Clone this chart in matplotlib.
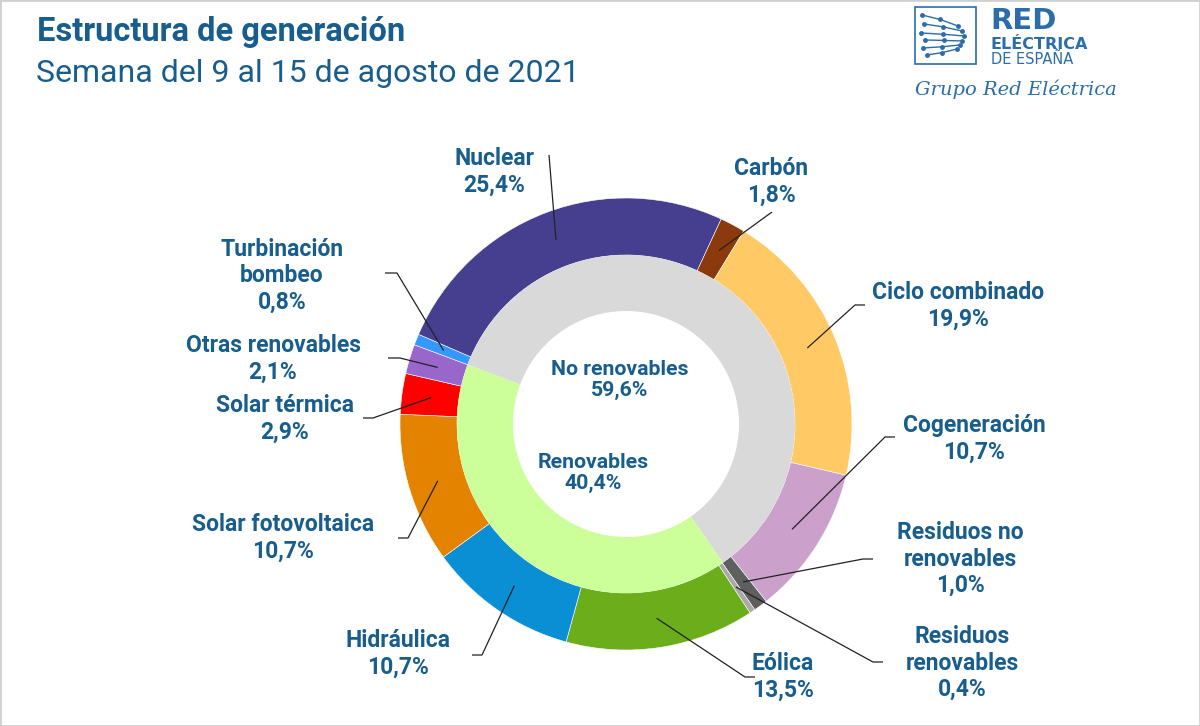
import matplotlib
matplotlib.use('Agg')
import matplotlib.pyplot as plt
import numpy as np
from matplotlib.patches import Rectangle

# ---------------- data ----------------
categories = ['Turbinación\nbombeo', 'Nuclear', 'Carbón', 'Ciclo combinado',
              'Cogeneración', 'Residuos no\nrenovables', 'Residuos\nrenovables',
              'Eólica', 'Hidráulica', 'Solar fotovoltaica', 'Solar térmica',
              'Otras renovables']
values = [0.8, 25.4, 1.8, 19.9, 10.7, 1.0, 0.4, 13.5, 10.7, 10.7, 2.9, 2.1]
value_labels = ['0,8%', '25,4%', '1,8%', '19,9%', '10,7%', '1,0%', '0,4%',
                '13,5%', '10,7%', '10,7%', '2,9%', '2,1%']
groups = ['No renovables', 'Renovables']
group_values = [59.6, 40.4]
group_labels = ['59,6%', '40,4%']

title = 'Estructura de generación'
subtitle = 'Semana del 9 al 15 de agosto de 2021'

# ---------------- style / layout ----------------
colors = ['#3399FF', '#463F90', '#8B3A0E', '#FFC966', '#CBA0CB', '#5F5F5F',
          '#A9A9A9', '#6BAD1A', '#0A8FD4', '#E38300', '#FF0000', '#9966CC']
group_colors = ['#D9D9D9', '#CCFF99']
TXT = '#175D8D'
LOGO = '#2A6DAA'

W, H = 1200, 726
CX, CY = 626, H - 424
R = 226

def Y(y):
    return H - y

# text centre (pixel coords), elbow start / end (pixel coords) or None
label_pos = [
    (282, 276, (385, 273), (397, 273)),   # Turbinación
    (494, 172, (549, 155), None),         # Nuclear
    (771, 182, (772, 212), None),         # Carbón
    (958, 306, (865, 305), (855, 305)),   # Ciclo combinado
    (974, 439, (895, 437), (885, 437)),   # Cogeneración
    (960, 559, (873, 559), (863, 559)),   # Residuos no renovables
    (962, 663, (883, 662), (873, 662)),   # Residuos renovables
    (783, 677, (755, 677), (745, 677)),   # Eólica
    (398, 654, (472, 655), (482, 655)),   # Hidráulica
    (283, 538, (398, 538), (408, 538)),   # Solar FV
    (285, 419, (363, 418), (373, 418)),   # Solar térmica
    (273, 359, (388, 358), (400, 358)),   # Otras renovables
]
group_pos = [(620, 380), (593, 473)]

FONT = ['Roboto', 'DejaVu Sans']
plt.rcParams['font.family'] = FONT

fig = plt.figure(figsize=(W / 100, H / 100), dpi=100)
ax = fig.add_axes([0, 0, 1, 1])

outer, _ = ax.pie(values, radius=R, center=(CX, CY), startangle=159.5,
                  counterclock=False, colors=colors,
                  wedgeprops=dict(width=57, edgecolor='white', linewidth=0.4))
inner, _ = ax.pie(group_values, radius=169, center=(CX, CY), startangle=159.5,
                  counterclock=False, colors=group_colors,
                  wedgeprops=dict(width=56, edgecolor='none'))

ax.set_xlim(0, W)
ax.set_ylim(0, H)
ax.set_aspect('equal')
ax.axis('off')

fs = 16.5
for w, cat, vl, (tx, ty, p0, p1) in zip(outer, categories, value_labels, label_pos):
    ax.text(tx, Y(ty), cat + '\n' + vl, ha='center', va='center', color=TXT,
            fontsize=fs, fontweight='bold', linespacing=1.18)
    mid = np.deg2rad((w.theta1 + w.theta2) / 2)
    ex, ey = CX + 0.87 * R * np.cos(mid), CY + 0.87 * R * np.sin(mid)
    xs = [p0[0]]
    ys = [Y(p0[1])]
    if p1 is not None:
        xs.append(p1[0]); ys.append(Y(p1[1]))
    xs.append(ex); ys.append(ey)
    ax.plot(xs, ys, color='#222222', lw=0.9, solid_capstyle='butt')

for g, gl, (tx, ty) in zip(groups, group_labels, group_pos):
    ax.text(tx, Y(ty), g + '\n' + gl, ha='center', va='center', color=TXT,
            fontsize=15.3, fontweight='bold', linespacing=1.15)

# titles
ax.text(37, Y(32), title, ha='left', va='center', color=TXT, fontsize=23.5,
        fontweight='bold')
ax.text(36, Y(73), subtitle, ha='left', va='center', color=TXT, fontsize=23,
        fontweight='normal')

# logo
ax.add_patch(Rectangle((915, Y(64)), 61, 57, fill=False, edgecolor=LOGO, lw=1.2))
lx0 = [922, 924, 921, 925, 923, 927]
ly0 = [15, 24, 33, 40, 48, 55]
lx1 = [958, 962, 964, 962, 960, 957]
ly1 = [26, 31, 36, 41, 45, 49]
for a, b, c, d in zip(lx0, ly0, lx1, ly1):
    ax.plot([a, (a + c) / 2, c], [Y(b), Y((b + d) / 2 + (b - d) * 0.1), Y(d)],
            color=LOGO, lw=1.0)
    ax.plot([a, (a + c) / 2, c], [Y(b), Y((b + d) / 2 + (b - d) * 0.1), Y(d)],
            'o', color=LOGO, ms=2.5)
ax.text(990, Y(29), 'RED', ha='left', va='baseline', color=LOGO, fontsize=21,
        fontweight='black', family=['DejaVu Sans'])
ax.text(991, Y(49), 'ELÉCTRICA', ha='left', va='baseline', color=LOGO, fontsize=11.5,
        fontweight='bold', family=['DejaVu Sans'])
ax.text(991, Y(64), 'DE ESPAÑA', ha='left', va='baseline', color=LOGO, fontsize=10.5,
        family=['DejaVu Sans'])
ax.text(915, Y(89), 'Grupo Red Eléctrica', ha='left', va='center', color=LOGO,
        fontsize=14, style='italic', family=['DejaVu Serif'])

# frame
fig.add_artist(Rectangle((0, 0), 1, 1, transform=fig.transFigure, fill=False,
                         edgecolor='#D0D0D0', lw=2))

fig.savefig('out.png', dpi=100, facecolor='white')
